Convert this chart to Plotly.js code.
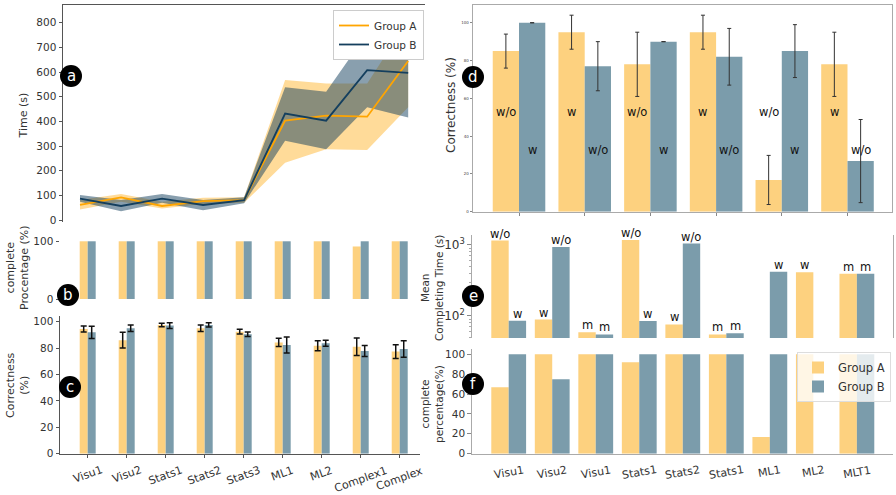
<!DOCTYPE html>
<html>
<head>
<meta charset="utf-8">
<script src="https://cdn.plot.ly/plotly-3.0.1.min.js"></script>
<style>html,body{margin:0;padding:0;background:#fff;}#chart{width:896px;height:495px;}</style>
</head>
<body>
<div id="chart"></div>
<script>
// ---------- DATA ----------
const tasks = ['Visu1','Visu2','Stats1','Stats2','Stats3','ML1','ML2','Complex1','Complex2'];
const taskLabels = ['Visu1','Visu2','Stats1','Stats2','Stats3','ML1','ML2','Complex1','Complex'];
// panel a: time (s)
const timeA   = [61, 92, 57, 77, 81, 403, 423, 419, 645];
const timeAlo = [43, 74, 47, 65, 70, 232, 287, 284, 457];
const timeAhi = [81, 106, 74, 90, 92, 568, 554, 554, 811];
const timeB   = [87, 57, 87, 61, 81, 432, 403, 608, 597];
const timeBlo = [74, 36, 70, 40, 68, 322, 287, 457, 416];
const timeBhi = [101, 81, 106, 81, 92, 538, 520, 757, 777];
// panel b: complete percentage
const completeA = [100, 100, 100, 100, 100, 100, 100, 91, 100];
const completeB = [100, 100, 100, 100, 100, 100, 100, 100, 100];
// panel c: correctness
const corrA    = [94.4, 86, 97.5, 95, 92.4, 84.3, 81.8, 81, 77.3];
const corrAerr = [2.3, 5.9, 1.3, 2.5, 1.8, 3.2, 3.8, 6.6, 5.2];
const corrB    = [91.9, 95, 97, 97.5, 90.4, 82.3, 83.6, 77.8, 79.3];
const corrBerr = [4.7, 2.5, 2.2, 1.6, 1.7, 6, 2.3, 4.2, 6.2];
// panel d: correctness w / w/o
const dCats  = ['Visu1','Visu2','Stats1','Stats2','ML1','ML2'];
const dA     = [85, 95, 78, 95, 16.8, 78];
const dAerr  = [9, 9, 17, 9, 13, 17];
const dB     = [100, 77, 90, 82, 85, 26.8];
const dBerr  = [0, 13, 0, 15, 14, 22];
const dLabA  = ['w/o','w','w/o','w','w/o','w'];
const dLabB  = ['w','w/o','w','w/o','w','w/o'];
// panel e: mean completing time (log)
const eCats = ['Visu1','Visu2','Visu1','Stats1','Stats2','Stats1','ML1','ML2','MLT1'];
const eA    = [1151, 89, 59, 1175, 76, 55, null, 412, 394];
const eB    = [86, 937, 55, 85, 1045, 57, 421, null, 394];
const eLabA = ['w/o','w','m','w/o','w','m',null,'w','m'];
const eLabB = ['w','w/o','m','w','w/o','m','w',null,'m'];
// panel f: complete percentage
const fA = [66.8, 100, 100, 92, 100, 100, 16.8, 100, 100];
const fB = [100, 74.8, 100, 100, 100, 100, 100, null, 100];

// ---------- STYLE ----------
const W = 896, H = 495;
const fx = p => p / W;
const fy = p => 1 - p / H;
const FONT = 'DejaVu Sans, sans-serif';
const YEL = '#FDD17F', BLU = '#7B9CAB';
const ORA = '#FFA500', NAV = '#143F5E';
const idx = n => Array.from({length: n}, (_, i) => i);

const traces = [];
// panel a bands
function band(lo, hi, color) {
  const xs = idx(tasks.length);
  return {type: 'scatter', xaxis: 'x', yaxis: 'y', mode: 'none', fill: 'toself', fillcolor: color,
    x: xs.concat(xs.slice().reverse()), y: hi.concat(lo.slice().reverse()), showlegend: false, hoverinfo: 'skip'};
}
traces.push(band(timeAlo, timeAhi, 'rgba(255,165,0,0.4)'));
traces.push(band(timeBlo, timeBhi, 'rgba(20,63,94,0.5)'));
traces.push({type: 'scatter', xaxis: 'x', yaxis: 'y', mode: 'lines', x: idx(tasks.length), y: timeA,
  line: {color: ORA, width: 1.8}, name: 'Group A', legend: 'legend'});
traces.push({type: 'scatter', xaxis: 'x', yaxis: 'y', mode: 'lines', x: idx(tasks.length), y: timeB,
  line: {color: NAV, width: 1.8}, name: 'Group B', legend: 'legend'});

function bar(xa, ya, y, color, w, off, extra) {
  return Object.assign({type: 'bar', xaxis: xa, yaxis: ya, x: idx(y.length), y: y, width: w, offset: off,
    marker: {color: color, line: {width: 0}}, showlegend: false, hoverinfo: 'skip'}, extra || {});
}
// panel b
traces.push(bar('x2', 'y2', completeA, YEL, 0.205, -0.205));
traces.push(bar('x2', 'y2', completeB, BLU, 0.205, 0));
// panel c
const errC = arr => ({type: 'data', array: arr, visible: true, color: '#111', thickness: 1.5, width: 3});
traces.push(bar('x3', 'y3', corrA, YEL, 0.205, -0.205, {error_y: errC(corrAerr)}));
traces.push(bar('x3', 'y3', corrB, BLU, 0.205, 0, {error_y: errC(corrBerr)}));
// panel d
const errD = arr => ({type: 'data', array: arr, visible: true, color: '#333', thickness: 1, width: 2});
traces.push(bar('x4', 'y4', dA, YEL, 0.4, -0.4, {error_y: errD(dAerr)}));
traces.push(bar('x4', 'y4', dB, BLU, 0.4, 0, {error_y: errD(dBerr)}));
// panel e
traces.push(bar('x5', 'y5', eA, YEL, 0.4, -0.4));
traces.push(bar('x5', 'y5', eB, BLU, 0.4, 0));
// panel f
traces.push(bar('x6', 'y6', fA, YEL, 0.4, -0.4, {name: 'Group A', showlegend: true, legend: 'legend2'}));
traces.push(bar('x6', 'y6', fB, BLU, 0.4, 0, {name: 'Group B', showlegend: true, legend: 'legend2'}));

const tickF = {family: FONT, size: 10.5, color: '#333'};
const base = {showgrid: false, zeroline: false, fixedrange: true};

const layout = {
  width: W, height: H, margin: {l: 0, r: 0, t: 0, b: 0},
  paper_bgcolor: '#fff', plot_bgcolor: 'rgba(0,0,0,0)',
  font: {family: FONT, color: '#333'},
  barmode: 'overlay',
  xaxis: Object.assign({}, base, {domain: [fx(63), fx(425)], anchor: 'y', side: 'top', range: [-0.415, 8.41],
    showline: true, linecolor: '#555', linewidth: 1, ticks: '', showticklabels: false}),
  yaxis: Object.assign({}, base, {domain: [fy(222), fy(5)], anchor: 'x', range: [-8, 872], dtick: 100,
    showline: true, linecolor: '#555', linewidth: 1, ticks: 'outside', ticklen: 3.5, tickcolor: '#555', tickfont: tickF}),
  xaxis2: Object.assign({}, base, {domain: [fx(60), fx(420)], anchor: 'y2', range: [-0.71, 8.52],
    ticks: '', showticklabels: false}),
  yaxis2: Object.assign({}, base, {domain: [fy(299), fy(241)], anchor: 'x2', range: [0, 100.5],
    tickvals: [0, 100], ticks: 'outside', ticklen: 3.5, tickcolor: '#555', tickfont: tickF}),
  xaxis3: Object.assign({}, base, {domain: [fx(60), fx(420)], anchor: 'y3', range: [-0.71, 8.52],
    tickvals: idx(taskLabels.length), showticklabels: false, ticks: 'outside', ticklen: 3.5,
    tickcolor: '#555', showline: true, linecolor: '#555'}),
  yaxis3: Object.assign({}, base, {domain: [fy(453.7), fy(315.7)], anchor: 'x3', range: [0, 104.5], dtick: 20,
    showline: true, linecolor: '#555', ticks: 'outside', ticklen: 3.5, tickcolor: '#555', tickfont: tickF}),
  xaxis4: Object.assign({}, base, {domain: [fx(472.7), fx(891.7)], anchor: 'y4', range: [-0.705, 5.673],
    tickvals: idx(dCats.length), showticklabels: false, ticks: 'outside', ticklen: 3,
    tickcolor: '#888', showline: true, mirror: true, linecolor: '#aaa'}),
  yaxis4: Object.assign({}, base, {domain: [fy(211.7), fy(5)], anchor: 'x4', range: [0, 109.4], dtick: 20,
    ticks: 'outside', ticklen: 2, tickcolor: '#888', showline: true, mirror: true, linecolor: '#aaa',
    tickfont: {family: FONT, size: 4, color: '#444'}}),
  xaxis5: Object.assign({}, base, {domain: [fx(471.7), fx(893)], anchor: 'y5', range: [-0.85, 8.83],
    ticks: '', showticklabels: false}),
  yaxis5: Object.assign({}, base, {type: 'log', domain: [fy(338), fy(235)], anchor: 'x5', range: [1.69, 3.14],
    tickvals: [100, 1000], ticktext: ['10<sup>2</sup>', '10<sup>3</sup>'], ticks: 'outside', ticklen: 3.5,
    tickcolor: '#888', showline: true, mirror: true, linecolor: '#aaa', tickfont: {family: FONT, size: 12, color: '#333'},
    minor: {tickvals: [50, 60, 70, 80, 90, 200, 300, 400, 500, 600, 700, 800, 900], ticks: 'outside', ticklen: 2, tickcolor: '#aaa'}}),
  xaxis6: Object.assign({}, base, {domain: [fx(471.7), fx(893)], anchor: 'y6', range: [-0.85, 8.83],
    tickvals: idx(eCats.length), showticklabels: false, ticks: '', showline: true, linecolor: '#aaa'}),
  yaxis6: Object.assign({}, base, {domain: [fy(453.7), fy(349)], anchor: 'x6', range: [0, 105.3], dtick: 20,
    ticks: 'outside', ticklen: 3.5, tickcolor: '#888', showline: true, linecolor: '#aaa', tickfont: tickF}),
  legend: {x: fx(333), y: fy(10), xanchor: 'left', yanchor: 'top', bgcolor: '#fff', bordercolor: '#ccc',
    borderwidth: 1, font: {family: FONT, size: 10.5, color: '#333'}, itemwidth: 30, tracegroupgap: 0},
  legend2: {x: fx(797), y: fy(352), xanchor: 'left', yanchor: 'top', bgcolor: 'rgba(255,255,255,0.8)',
    bordercolor: '#ddd', borderwidth: 1, font: {family: FONT, size: 11.5, color: '#333'}, itemwidth: 30},
  shapes: [], annotations: []
};

// axis titles
function title(text, cx, cy, size) {
  layout.annotations.push({text: text, x: fx(cx), y: fy(cy), xref: 'paper', yref: 'paper', showarrow: false,
    textangle: -90, xanchor: 'center', yanchor: 'middle', font: {family: FONT, size: size, color: '#333'}});
}
title('Time (s)', 23.5, 116, 11);
title('complete<br>Procentage (%)', 17, 268, 11);
title('Correctness<br>(%)', 17, 385, 11);
title('Correctness (%)', 451, 105, 12);
title('Mean<br>Completing Time (s)', 432, 288, 10.5);
title('complete<br>percentage(%)', 432, 404, 10.5);

// rotated category labels (centered under each tick, matplotlib style)
taskLabels.forEach((t, i) => layout.annotations.push({text: t, x: i, xref: 'x3', y: fy(461), yref: 'paper',
  showarrow: false, textangle: -20, xanchor: 'center', yanchor: 'top', font: {family: FONT, size: 11, color: '#333'}}));
eCats.forEach((t, i) => layout.annotations.push({text: t, x: i, xref: 'x6', y: fy(461), yref: 'paper',
  showarrow: false, textangle: -10, xanchor: 'center', yanchor: 'top', font: {family: FONT, size: 11, color: '#333'}}));

// panel d in-bar labels
dLabA.forEach((t, i) => layout.annotations.push({text: t, x: i - 0.2, y: 53, xref: 'x4', yref: 'y4',
  showarrow: false, font: {family: FONT, size: 11.5, color: '#111'}}));
dLabB.forEach((t, i) => layout.annotations.push({text: t, x: i + 0.2, y: 32.6, xref: 'x4', yref: 'y4',
  showarrow: false, font: {family: FONT, size: 11.5, color: '#111'}}));

// panel e labels above bars (log axis: annotation y in log10 units)
function eLabels(vals, labs, dx) {
  vals.forEach((v, i) => {
    if (v == null || !labs[i]) return;
    layout.annotations.push({text: labs[i], x: i + dx, y: Math.log10(v), xref: 'x5', yref: 'y5',
      showarrow: false, xanchor: 'center', yanchor: 'bottom', yshift: -2,
      font: {family: FONT, size: 11.5, color: '#111'}});
  });
}
eLabels(eA, eLabA, -0.2);
eLabels(eB, eLabB, 0.2);

// panel letter badges
const badges = [['a', 71, 76], ['b', 68, 295], ['c', 70, 387], ['d', 473, 77], ['e', 473, 296], ['f', 473, 384]];
badges.forEach(([t, cx, cy]) => {
  const r = 11;
  layout.shapes.push({type: 'circle', xref: 'paper', yref: 'paper', layer: 'above',
    x0: fx(cx - r), x1: fx(cx + r), y0: fy(cy + r), y1: fy(cy - r), fillcolor: '#000', line: {width: 0}});
  layout.annotations.push({text: t, x: fx(cx), y: fy(cy), xref: 'paper', yref: 'paper', showarrow: false,
    xanchor: 'center', yanchor: 'middle', font: {family: FONT, size: 15, color: '#fff'}});
});

Plotly.newPlot('chart', traces, layout, {staticPlot: true, displayModeBar: false});
</script>
</body>
</html>
